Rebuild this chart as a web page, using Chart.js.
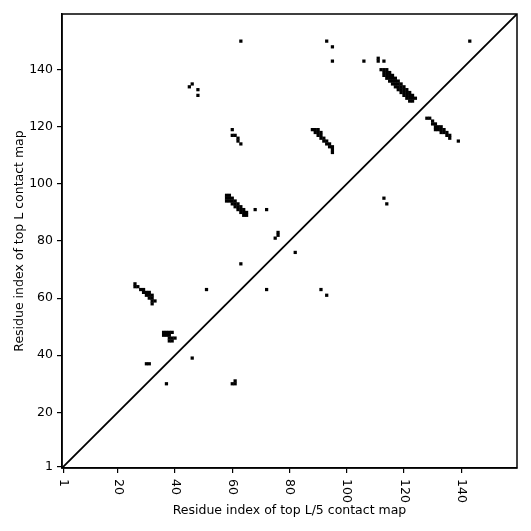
<!DOCTYPE html>
<html>
<head>
<meta charset="utf-8">
<script src="https://cdn.jsdelivr.net/npm/chart.js@4/dist/chart.umd.min.js"></script>
<style>
  body { margin: 0; background: #fff; }
  #wrap { width: 531px; height: 531px; }
</style>
</head>
<body>
<div id="wrap"><canvas id="map" width="531" height="531"></canvas></div>
<script>
// axis range (residues), ticks
const axisMin = 0.5;
const axisMax = 159.5;
const tickValues = [1, 20, 40, 60, 80, 100, 120, 140];

// contact cells above the diagonal [i, j]
const upperCells = [
    [63, 150], [93, 150], [95, 148], [143, 150],
    [95, 143], [106, 143], [111, 143], [111, 144], [113, 143],
    // 112-124 / 129-140 strand pairing
    [112, 140], [113, 140], [113, 139], [113, 138],
    [114, 140], [114, 139], [114, 138], [114, 137],
    [115, 139], [115, 138], [115, 137], [115, 136],
    [116, 138], [116, 137], [116, 136], [116, 135],
    [117, 137], [117, 136], [117, 135], [117, 134],
    [118, 136], [118, 135], [118, 134], [118, 133],
    [119, 135], [119, 134], [119, 133], [119, 132],
    [120, 134], [120, 133], [120, 132], [120, 131],
    [121, 133], [121, 132], [121, 131], [121, 130],
    [122, 132], [122, 131], [122, 130], [122, 129],
    [123, 131], [123, 130], [123, 129], [124, 130],
    // 128-136 / 116-123
    [128, 123], [129, 123], [130, 122], [130, 121], [131, 121], [131, 120], [131, 119],
    [132, 120], [132, 119], [133, 120], [133, 119], [133, 118], [134, 119], [134, 118],
    [135, 118], [135, 117], [136, 117], [136, 116],
    // 88-95 / 111-119
    [88, 119], [89, 119], [89, 118], [90, 119], [90, 118], [90, 117],
    [91, 118], [91, 117], [91, 116], [92, 116], [92, 115], [93, 115], [93, 114],
    [94, 114], [94, 113], [95, 113], [95, 112], [95, 111],
    // 58-65 / 89-96
    [58, 96], [58, 95], [58, 94], [59, 96], [59, 95], [59, 94],
    [60, 95], [60, 94], [60, 93], [61, 94], [61, 93], [61, 92],
    [62, 93], [62, 92], [62, 91], [63, 92], [63, 91], [63, 90],
    [64, 91], [64, 90], [64, 89], [65, 90], [65, 89],
    [68, 91], [72, 91],
    [60, 119], [60, 117], [61, 117], [62, 116], [62, 115], [63, 114],
    [45, 134], [46, 135], [48, 133], [48, 131],
    [76, 83], [76, 82], [75, 81], [63, 72],
    // 26-33 / 58-65
    [26, 65], [26, 64], [27, 64], [28, 63], [29, 63], [29, 62], [30, 62], [31, 62],
    [30, 61], [31, 61], [32, 61], [31, 60], [32, 60], [32, 59], [33, 59], [32, 58],
    [51, 63],
    // 36-40 / 45-48
    [36, 48], [37, 48], [38, 48], [39, 48], [36, 47], [37, 47], [38, 47],
    [38, 46], [39, 46], [40, 46], [38, 45], [39, 45],
    [30, 37], [31, 37]
];

// contact cells below the diagonal
const lowerCells = [
    [37, 30], [46, 39], [60, 30], [61, 30], [61, 31],
    [72, 63], [91, 63], [93, 61], [82, 76],
    [113, 95], [114, 93], [139, 115]
];

const toPoints = (cells) => cells.map(c => ({ x: c[0], y: c[1] }));

const FONT = { family: 'DejaVu Sans', size: 12.5 };

// x tick labels are drawn turned clockwise (reading downwards)
const xLabelsPlugin = {
    id: 'xLabels',
    afterDraw(chart) {
        const { ctx, scales: { x }, chartArea } = chart;
        ctx.save();
        ctx.fillStyle = '#000';
        ctx.font = FONT.size + 'px ' + FONT.family;
        ctx.textAlign = 'left';
        ctx.textBaseline = 'middle';
        tickValues.forEach(v => {
            ctx.save();
            ctx.translate(x.getPixelForValue(v), chartArea.bottom + 11);
            ctx.rotate(Math.PI / 2);
            ctx.fillText(String(v), 0, 0);
            ctx.restore();
        });
        // frame
        ctx.strokeStyle = '#000';
        ctx.lineWidth = 1.5;
        ctx.strokeRect(chartArea.left, chartArea.top, chartArea.right - chartArea.left, chartArea.bottom - chartArea.top);
        ctx.restore();
    }
};

new Chart(document.getElementById('map'), {
    type: 'scatter',
    data: {
        datasets: [
            {
                label: 'diagonal',
                type: 'line',
                data: [{ x: axisMin, y: axisMin }, { x: axisMax, y: axisMax }],
                borderColor: '#000',
                borderWidth: 1.8,
                pointRadius: 0,
                fill: false
            },
            {
                label: 'top L',
                data: toPoints(upperCells),
                pointStyle: 'rect',
                pointRadius: 2.3,
                borderWidth: 0,
                backgroundColor: '#000'
            },
            {
                label: 'top L/5',
                data: toPoints(lowerCells),
                pointStyle: 'rect',
                pointRadius: 2.3,
                borderWidth: 0,
                backgroundColor: '#000'
            }
        ]
    },
    options: {
        responsive: false,
        animation: false,
        layout: { padding: { top: 14, right: 14, left: 0, bottom: 0 } },
        plugins: { legend: { display: false }, tooltip: { enabled: false } },
        scales: {
            x: {
                type: 'linear',
                min: axisMin,
                max: axisMax,
                afterBuildTicks: s => { s.ticks = tickValues.map(v => ({ value: v })); },
                afterFit: s => { s.height = 63; },
                ticks: { color: 'rgba(0,0,0,0)', font: FONT, maxRotation: 0, autoSkip: false },
                grid: { drawOnChartArea: false, drawTicks: true, tickLength: 5, color: '#000', lineWidth: 1.2 },
                border: { display: true, color: '#000', width: 1.5 },
                title: {
                    display: true,
                    text: 'Residue index of top L/5 contact map',
                    color: '#000',
                    font: FONT,
                    padding: { top: 0, bottom: 13 }
                }
            },
            y: {
                type: 'linear',
                min: axisMin,
                max: axisMax,
                afterBuildTicks: s => { s.ticks = tickValues.map(v => ({ value: v })); },
                afterFit: s => { s.width = 62; },
                ticks: { color: '#000', font: FONT, padding: 4, autoSkip: false },
                grid: { drawOnChartArea: false, drawTicks: true, tickLength: 5, color: '#000', lineWidth: 1.2 },
                border: { display: true, color: '#000', width: 1.5 },
                title: {
                    display: true,
                    text: 'Residue index of top L contact map',
                    color: '#000',
                    font: FONT,
                    padding: { top: 12, bottom: 0 }
                }
            }
        }
    },
    plugins: [xLabelsPlugin]
});
</script>
</body>
</html>
